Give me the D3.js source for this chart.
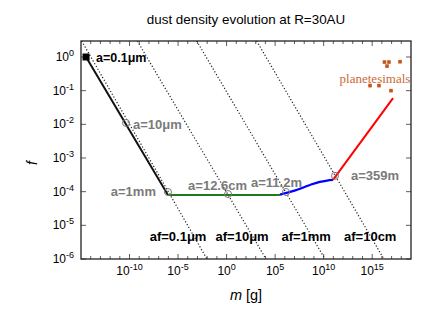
<!DOCTYPE html>
<html>
<head>
<meta charset="utf-8">
<script src="https://cdn.jsdelivr.net/npm/d3@7"></script>
<style>
  body { margin: 0; background: #fff; }
  svg { display: block; font-family: 'Liberation Sans', Arial, Helvetica, sans-serif; }
</style>
</head>
<body>
<div id="chart"></div>
<script>
// all values are log10(m [g]) and log10(f)
const blackLine = [[-14.48, 0], [-6.04, -4.1]]
const greenLine = [[-6.04, -4.1], [5.5, -4.1]]
const blueLine = [[5.5, -4.09], [7.0, -3.97], [8.6, -3.8], [9.6, -3.71], [10.35, -3.67], [10.96, -3.65]]
const redLine = [[10.96, -3.65], [17.15, -1.22]]

const startPoint = { label: 'a=0.1\u03bcm', at: [-14.48, 0] }
const sizeMarkers = [
  { label: 'a=10\u03bcm', at: [-10.36, -1.96] },
  { label: 'a=1mm', at: [-6.04, -4.01] },
  { label: 'a=12.6cm', at: [0.15, -4.07] },
  { label: 'a=11.2m', at: [6.12, -4.01] },
  { label: 'a=359m', at: [11.17, -3.53] }
]

// dotted lines of constant fragment size, from top edge to f=1e-6
const fragmentLines = [
  { label: 'af=0.1\u03bcm', from: [-14.93, 0.475], to: [-2.02, -6], labelAt: -5.0 },
  { label: 'af=10\u03bcm', from: [-9.2, 0.475], to: [4.06, -6], labelAt: 1.6 },
  { label: 'af=1mm', from: [-3.08, 0.475], to: [10.14, -6], labelAt: 8.2 },
  { label: 'af=10cm', from: [3.1, 0.475], to: [16.2, -6], labelAt: 14.8 }
]

const planetesimals = [
  [16.27, -0.15], [16.73, -0.15], [16.53, -0.27], [17.87, -0.14],
  [14.78, -0.85], [15.7, -0.85], [16.94, -1.0]
]

const xTicksMajor = [-10, -5, 0, 5, 10, 15]
const yTicks = [0, -1, -2, -3, -4, -5, -6]

const W = 436, H = 327,
      M = { top: 41, right: 25, bottom: 68, left: 81 }

const x = d3.scaleLog().domain([1e-15, 1e19]).range([M.left, W - M.right])
const y = d3.scaleLog().domain([1e-6, Math.pow(10, 0.475)]).range([H - M.bottom, M.top])
const px = d => x(Math.pow(10, d[0]))
const py = d => y(Math.pow(10, d[1]))

const svg = d3.select('#chart').append('svg')
  .attr('width', W)
  .attr('height', H)

svg.append('text')
  .attr('x', 246)
  .attr('y', 24)
  .attr('text-anchor', 'middle')
  .style('font-size', '13.4px')
  .text('dust density evolution at R=30AU')

const clip = svg.append('clipPath').attr('id', 'clip')
clip.append('rect')
  .attr('x', M.left).attr('y', M.top)
  .attr('width', W - M.left - M.right)
  .attr('height', H - M.top - M.bottom)

const plot = svg.append('g').attr('clip-path', 'url(#clip)')

// ticks (inside, mirrored)
const ticks = svg.append('g').attr('stroke', '#333').attr('stroke-width', 0.8)
d3.range(-14, 19).forEach(v => {
  const len = v % 5 === 0 ? 5 : 3
  const xx = x(Math.pow(10, v))
  ticks.append('line').attr('x1', xx).attr('x2', xx).attr('y1', H - M.bottom).attr('y2', H - M.bottom - len)
  ticks.append('line').attr('x1', xx).attr('x2', xx).attr('y1', M.top).attr('y2', M.top + len)
})
yTicks.forEach(v => {
  const yy = y(Math.pow(10, v))
  ticks.append('line').attr('x1', M.left).attr('x2', M.left + 5).attr('y1', yy).attr('y2', yy)
  ticks.append('line').attr('x1', W - M.right).attr('x2', W - M.right - 5).attr('y1', yy).attr('y2', yy)
})

// fragment-size dotted lines
plot.selectAll('line.frag')
  .data(fragmentLines)
  .enter()
  .append('line')
  .attr('class', 'frag')
  .attr('x1', d => px(d.from)).attr('y1', d => py(d.from))
  .attr('x2', d => px(d.to)).attr('y2', d => py(d.to))
  .attr('stroke', '#222')
  .attr('stroke-width', 1.2)
  .attr('stroke-dasharray', '1.2,2')

const line = d3.line().x(px).y(py)
const curve = d3.line().x(px).y(py).curve(d3.curveMonotoneX)

plot.append('path').attr('d', line(blackLine)).attr('stroke', '#111').attr('stroke-width', 2).attr('fill', 'none')
plot.append('path').attr('d', line(greenLine)).attr('stroke', '#1f7a1f').attr('stroke-width', 2).attr('fill', 'none')
plot.append('path').attr('d', curve(blueLine)).attr('stroke', '#0000ff').attr('stroke-width', 2.2).attr('fill', 'none')
plot.append('path').attr('d', line(redLine)).attr('stroke', '#ff0000').attr('stroke-width', 2).attr('fill', 'none')

// planetesimals
plot.selectAll('rect.pl')
  .data(planetesimals)
  .enter()
  .append('rect')
  .attr('class', 'pl')
  .attr('x', d => px(d) - 1.8).attr('y', d => py(d) - 1.8)
  .attr('width', 3.6).attr('height', 3.6)
  .attr('fill', '#c4561c')

svg.append('text')
  .attr('x', 375)
  .attr('y', 83)
  .attr('text-anchor', 'middle')
  .style('font-family', "'Liberation Serif', 'DejaVu Serif', serif")
  .style('font-size', '13px')
  .attr('fill', '#cc6a35')
  .text('planetesimals')

// size markers
svg.selectAll('circle.size')
  .data(sizeMarkers)
  .enter()
  .append('circle')
  .attr('class', 'size')
  .attr('cx', d => px(d.at))
  .attr('cy', d => py(d.at))
  .attr('r', 3.5)
  .attr('fill', 'none')
  .attr('stroke', '#777')
  .attr('stroke-width', 1)

const labelOffsets = [
  { dx: 7, dy: 1, anchor: 'start' },
  { dx: -12, dy: -1, anchor: 'end' },
  { dx: -10.5, dy: -8.5, anchor: 'middle' },
  { dx: -9.5, dy: -10, anchor: 'middle' },
  { dx: 16, dy: 0, anchor: 'start' }
]
svg.selectAll('text.size')
  .data(sizeMarkers)
  .enter()
  .append('text')
  .attr('class', 'size')
  .attr('x', (d, i) => px(d.at) + labelOffsets[i].dx)
  .attr('y', (d, i) => py(d.at) + labelOffsets[i].dy)
  .attr('dy', '0.35em')
  .attr('text-anchor', (d, i) => labelOffsets[i].anchor)
  .attr('fill', '#7a7a7a')
  .style('font-size', '13px')
  .style('font-weight', 'bold')
  .text(d => d.label)

svg.append('rect')
  .attr('x', px(startPoint.at) - 3.5).attr('y', py(startPoint.at) - 3.5)
  .attr('width', 7).attr('height', 7)
  .attr('fill', '#000')
svg.append('text')
  .attr('x', px(startPoint.at) + 10)
  .attr('y', py(startPoint.at) + 0.5)
  .attr('dy', '0.35em')
  .style('font-size', '12.5px')
  .style('font-weight', 'bold')
  .text(startPoint.label)

svg.selectAll('text.frag')
  .data(fragmentLines)
  .enter()
  .append('text')
  .attr('class', 'frag')
  .attr('x', d => x(Math.pow(10, d.labelAt)))
  .attr('y', 236)
  .attr('dy', '0.35em')
  .attr('text-anchor', 'middle')
  .style('font-size', '13px')
  .style('font-weight', 'bold')
  .text(d => d.label)

// frame
svg.append('rect')
  .attr('x', M.left).attr('y', M.top)
  .attr('width', W - M.left - M.right)
  .attr('height', H - M.top - M.bottom)
  .attr('fill', 'none')
  .attr('stroke', '#222')
  .attr('stroke-width', 1.3)

// tick labels
const xl = svg.selectAll('text.xt')
  .data(xTicksMajor)
  .enter()
  .append('text')
  .attr('class', 'xt')
  .attr('x', d => x(Math.pow(10, d)))
  .attr('y', 275)
  .attr('text-anchor', 'middle')
  .style('font-size', '12px')
xl.append('tspan').text('10')
xl.append('tspan').attr('dy', -5).style('font-size', '9px').text(d => d)

const yl = svg.selectAll('text.yt')
  .data(yTicks)
  .enter()
  .append('text')
  .attr('class', 'yt')
  .attr('x', 74)
  .attr('y', d => y(Math.pow(10, d)) + 4)
  .attr('text-anchor', 'end')
  .style('font-size', '12px')
yl.append('tspan').text('10')
yl.append('tspan').attr('dy', -5).style('font-size', '9px').text(d => d)

svg.append('text')
  .attr('transform', 'translate(37,163) rotate(-90)')
  .attr('text-anchor', 'middle')
  .style('font-size', '14px')
  .style('font-style', 'italic')
  .text('f')

const xlab = svg.append('text')
  .attr('x', 246)
  .attr('y', 300)
  .attr('text-anchor', 'middle')
  .style('font-size', '14.5px')
xlab.append('tspan').style('font-style', 'italic').text('m')
xlab.append('tspan').text(' [g]')
</script>
</body>
</html>
